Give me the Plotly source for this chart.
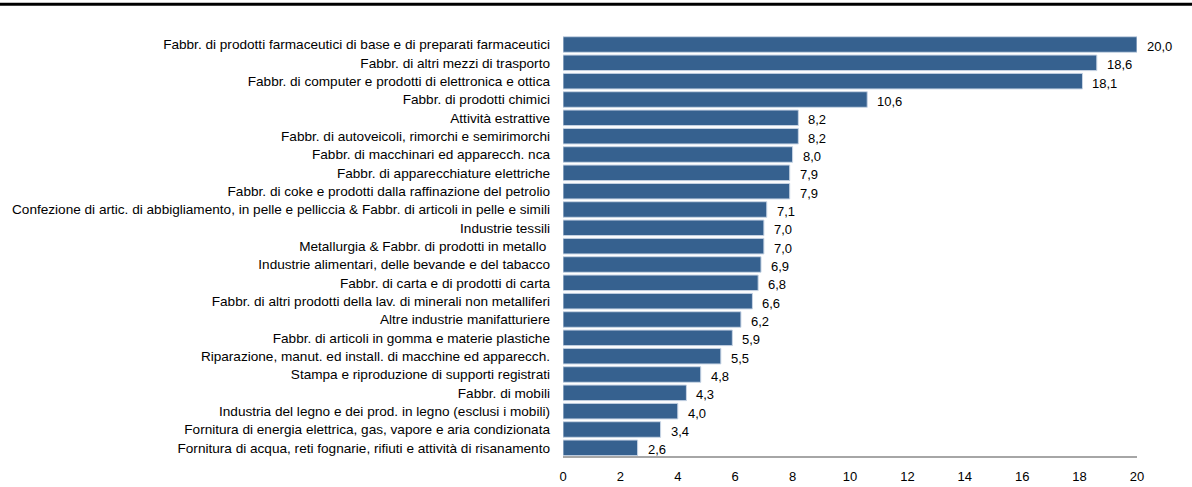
import plotly.graph_objects as go

categories = [
    "Fabbr. di prodotti farmaceutici di base e di preparati farmaceutici",
    "Fabbr. di altri mezzi di trasporto",
    "Fabbr. di computer e prodotti di elettronica e ottica",
    "Fabbr. di prodotti chimici",
    "Attività estrattive",
    "Fabbr. di autoveicoli, rimorchi e semirimorchi",
    "Fabbr. di macchinari ed apparecch. nca",
    "Fabbr. di apparecchiature elettriche",
    "Fabbr. di coke e prodotti dalla raffinazione del petrolio",
    "Confezione di artic. di abbigliamento, in pelle e pelliccia & Fabbr. di articoli in pelle e simili",
    "Industrie tessili",
    "Metallurgia & Fabbr. di prodotti in metallo ",
    "Industrie alimentari, delle bevande e del tabacco",
    "Fabbr. di carta e di prodotti di carta",
    "Fabbr. di altri prodotti della lav. di minerali non metalliferi",
    "Altre industrie manifatturiere",
    "Fabbr. di articoli in gomma e materie plastiche",
    "Riparazione, manut. ed install. di macchine ed apparecch.",
    "Stampa e riproduzione di supporti registrati",
    "Fabbr. di mobili",
    "Industria del legno e dei prod. in legno (esclusi i mobili)",
    "Fornitura di energia elettrica, gas, vapore e aria condizionata",
    "Fornitura di acqua, reti fognarie, rifiuti e attività di risanamento",
]
values = [20.0, 18.6, 18.1, 10.6, 8.2, 8.2, 8.0, 7.9, 7.9, 7.1, 7.0, 7.0,
          6.9, 6.8, 6.6, 6.2, 5.9, 5.5, 4.8, 4.3, 4.0, 3.4, 2.6]
x_ticks = [0, 2, 4, 6, 8, 10, 12, 14, 16, 18, 20]

FONT = "Liberation Sans, Arial, sans-serif"

fig = go.Figure()
fig.add_trace(go.Bar(
    x=values,
    y=categories,
    orientation="h",
    marker=dict(color="#36618f", line=dict(color="#c8d5e5", width=1)),
    hoverinfo="skip",
))

# value labels to the right of each bar, with comma decimals
for cat, v in zip(categories, values):
    fig.add_annotation(
        x=v, y=cat, xref="x", yref="y",
        text=f"{v:.1f}".replace(".", ","),
        showarrow=False, xanchor="left", yanchor="middle",
        xshift=8, yshift=-2,
        font=dict(family=FONT, size=13, color="#000000"),
    )

# heavy rule across the top of the page
fig.add_shape(type="line", xref="paper", yref="paper",
              x0=-1.0, x1=1.2, y0=1.068, y1=1.068,
              line=dict(color="#000000", width=3))

fig.update_layout(
    width=1192, height=487,
    margin=dict(l=563, r=55, t=33, b=30),
    plot_bgcolor="#ffffff", paper_bgcolor="#ffffff",
    bargap=0.15,
    showlegend=False,
    font=dict(family=FONT, size=13, color="#000000"),
    xaxis=dict(
        range=[0, 20], tickvals=x_ticks, ticktext=[str(t) for t in x_ticks],
        showgrid=False, zeroline=False, showline=False,
        ticks="", ticklabelstandoff=10, automargin=False,
        tickfont=dict(family=FONT, size=13),
    ),
    yaxis=dict(
        autorange="reversed", showgrid=False, zeroline=False,
        showline=False, ticks="", ticklabelstandoff=12, automargin=False,
        tickfont=dict(family=FONT, size=13.6),
    ),
)

# grey baseline under the bars
fig.add_shape(type="line", xref="paper", yref="paper",
              x0=0, x1=1, y0=0, y1=0,
              line=dict(color="#a6a6a6", width=2))

fig.write_html("out.html")
